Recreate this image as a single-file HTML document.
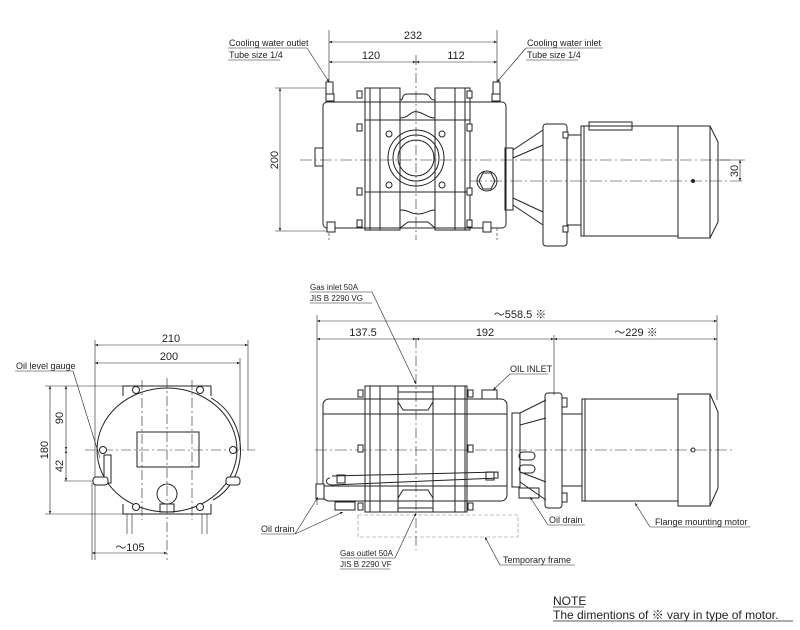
<!DOCTYPE html>
<html><head><meta charset="utf-8"><style>
html,body{margin:0;padding:0;background:#fff;width:800px;height:630px;overflow:hidden}
svg{display:block}
text{font-family:"Liberation Sans","Noto Sans CJK JP",sans-serif;fill:#222}
</style></head><body>
<svg width="800" height="630" viewBox="0 0 800 630" xmlns="http://www.w3.org/2000/svg">
<defs>
<marker id="a" viewBox="0 0 10 10" refX="10" refY="5" markerWidth="7" markerHeight="5" orient="auto-start-reverse"><path d="M0,1 L10,5 L0,9 z" fill="#222"/></marker>
</defs>
<g stroke="#222" fill="none" stroke-width="1">
<!-- ===== TOP VIEW ===== -->
<g stroke-width="0.6">
<line x1="329" y1="30" x2="329" y2="100"/><line x1="497" y1="30" x2="497" y2="100"/>
<line x1="416" y1="55" x2="416" y2="240" stroke-dasharray="10,3,2,3"/>
<line x1="329" y1="42" x2="497" y2="42" marker-start="url(#a)" marker-end="url(#a)"/>
<line x1="329" y1="62" x2="416" y2="62" marker-start="url(#a)" marker-end="url(#a)"/>
<line x1="416" y1="62" x2="497" y2="62" marker-start="url(#a)" marker-end="url(#a)"/>
<line x1="275" y1="88" x2="330" y2="88"/><line x1="275" y1="231" x2="330" y2="231"/>
<line x1="280" y1="88" x2="280" y2="231" marker-start="url(#a)" marker-end="url(#a)"/>
<line x1="300" y1="160" x2="730" y2="160" stroke-dasharray="12,3,2,3"/>
<line x1="470" y1="181" x2="745" y2="181" stroke-dasharray="12,3,2,3"/>
<line x1="740" y1="160" x2="740" y2="181" marker-start="url(#a)" marker-end="url(#a)"/>
<line x1="717" y1="160" x2="745" y2="160"/>
<line x1="329" y1="228" x2="329" y2="240" stroke-dasharray="3,2"/><line x1="497" y1="228" x2="497" y2="240" stroke-dasharray="3,2"/>
</g>
<rect x="323" y="102" width="183" height="126" rx="4"/>
<rect x="315" y="148" width="8" height="18"/>
<rect x="365" y="88" width="35" height="142"/><rect x="370" y="88" width="10" height="142"/>
<rect x="435" y="88" width="35" height="142"/><rect x="455" y="88" width="10" height="142"/>
<path d="M400,100 C405,100 400,94 408,94 L424,94 C432,94 428,100 435,100"/>
<path d="M400,118 C410,118 410,110 418,112 C426,114 428,118 435,118"/>
<path d="M400,210 C410,210 410,214 418,214 C426,214 428,210 435,210"/>
<path d="M400,228 L408,222 L428,222 L435,228"/>
<rect x="365" y="120" width="105" height="72"/>
<circle cx="416" cy="158" r="28"/><circle cx="416" cy="158" r="23"/><circle cx="416" cy="158" r="18"/>
<g fill="#fff"><circle cx="389" cy="134" r="3"/><circle cx="442" cy="134" r="3"/><circle cx="389" cy="185" r="3"/><circle cx="442" cy="185" r="3"/>
<rect x="357" y="91" width="5" height="7"/><rect x="467" y="91" width="5" height="7"/>
<rect x="357" y="124" width="5" height="7"/><rect x="467" y="124" width="5" height="7"/>
<rect x="357" y="188" width="5" height="7"/><rect x="467" y="188" width="5" height="7"/>
<rect x="357" y="220" width="5" height="7"/><rect x="467" y="220" width="5" height="7"/>
<rect x="326" y="82" width="7" height="12"/><rect x="493" y="82" width="7" height="12"/>
<rect x="326" y="94" width="8" height="7"/><rect x="492" y="94" width="8" height="7"/>
<rect x="327" y="222" width="8" height="10"/><rect x="483" y="222" width="8" height="10"/>
</g>
<path d="M479,181 l4,-8 h8 l4,8 l-4,8 h-8 z"/><circle cx="487" cy="181" r="10"/>
<rect x="505" y="148" width="8" height="62"/>
<path d="M513,150 L543,130 M513,158 L543,145 M513,205 L543,225 M513,198 L543,212"/>
<rect x="543" y="124" width="24" height="122" rx="3"/>
<rect x="567" y="135" width="14" height="90"/>
<rect x="581" y="126" width="97" height="110"/><line x1="584" y1="126" x2="584" y2="236"/>
<rect x="589" y="122" width="43" height="8"/>
<rect x="678" y="126" width="32" height="112"/>
<path d="M710,126 L718,142 L718,222 L710,238"/>
<circle cx="693" cy="181" r="1.5" fill="#222"/>
<g fill="#fff"><rect x="563" y="132" width="5" height="6"/><rect x="563" y="226" width="5" height="6"/></g>
<g stroke-width="0.6">
<line x1="228" y1="48" x2="307" y2="48"/><line x1="228" y1="60" x2="280" y2="60"/>
<line x1="307" y1="48" x2="329" y2="82" marker-end="url(#a)"/>
<line x1="526" y1="48" x2="603" y2="48"/><line x1="526" y1="60" x2="578" y2="60"/>
<line x1="526" y1="48" x2="497" y2="82" marker-end="url(#a)"/>
</g>

<!-- ===== SIDE VIEW ===== -->
<g stroke-width="0.6">
<line x1="317" y1="315" x2="317" y2="505"/><line x1="717" y1="315" x2="717" y2="400"/>
<line x1="554" y1="335" x2="554" y2="395"/>
<line x1="416" y1="338" x2="416" y2="550" stroke-dasharray="10,3,2,3"/>
<line x1="317" y1="321" x2="717" y2="321" marker-start="url(#a)" marker-end="url(#a)"/>
<line x1="317" y1="339" x2="416" y2="339" marker-start="url(#a)" marker-end="url(#a)"/>
<line x1="416" y1="339" x2="554" y2="339" marker-start="url(#a)" marker-end="url(#a)"/>
<line x1="554" y1="339" x2="717" y2="339" marker-start="url(#a)" marker-end="url(#a)"/>
<line x1="315" y1="450" x2="735" y2="450" stroke-dasharray="12,3,2,3"/>
<rect x="358" y="515" width="160" height="22" stroke-dasharray="4,2" stroke="#888"/>
</g>
<rect x="323" y="399" width="184" height="102" rx="6"/>
<line x1="323" y1="414" x2="507" y2="414"/><line x1="323" y1="486" x2="507" y2="486"/>
<rect x="365" y="386" width="102" height="126"/>
<rect x="370" y="386" width="10" height="126"/><rect x="455" y="386" width="10" height="126"/>
<line x1="398" y1="386" x2="398" y2="512"/><line x1="433" y1="386" x2="433" y2="512"/>
<path d="M398,392 h35 M398,402 L403,410 L428,410 L433,402 M398,498 L403,490 L428,490 L433,498 M398,508 h35"/>
<g fill="#fff">
<rect x="358" y="390" width="5" height="7"/><rect x="468" y="390" width="5" height="7"/>
<rect x="358" y="445" width="5" height="7"/><rect x="468" y="445" width="5" height="7"/>
<rect x="358" y="503" width="5" height="7"/><rect x="468" y="503" width="5" height="7"/>
<rect x="482" y="390" width="15" height="9"/>
<rect x="335" y="502" width="20" height="8"/>
<rect x="316" y="484" width="8" height="15"/>
<rect x="519" y="488" width="20" height="10"/>
</g>
<path d="M330,478 C325,478 325,485 332,485 L498,478 L498,472 L332,476" />
<rect x="337" y="475" width="8" height="8"/><rect x="486" y="472" width="8" height="8"/>
<rect x="512" y="413" width="8" height="74"/>
<path d="M520,413 L546,400 M520,425 L546,418 M520,482 L546,500 M520,472 L546,482"/>
<rect x="519" y="452" width="16" height="8" rx="4"/><rect x="519" y="465" width="16" height="8" rx="4"/>
<rect x="545" y="393" width="17" height="115" rx="3"/>
<rect x="562" y="414" width="20" height="72"/>
<rect x="582" y="399" width="96" height="102"/><line x1="585" y1="399" x2="585" y2="501"/>
<rect x="678" y="394" width="32" height="112"/>
<path d="M710,394 L718,412 L718,488 L710,506"/>
<circle cx="693" cy="450" r="2"/>
<g fill="#fff"><rect x="562" y="398" width="5" height="9"/><rect x="562" y="493" width="5" height="9"/></g>
<g stroke-width="0.6">
<line x1="310" y1="292" x2="372" y2="292"/><line x1="310" y1="303" x2="372" y2="303"/>
<line x1="372" y1="292" x2="416" y2="384" marker-end="url(#a)"/>
<line x1="510" y1="374" x2="548" y2="374"/><line x1="510" y1="374" x2="493" y2="390" marker-end="url(#a)"/>
<line x1="261" y1="534" x2="295" y2="534"/>
<line x1="295" y1="534" x2="318" y2="497" marker-end="url(#a)"/>
<line x1="295" y1="534" x2="343" y2="512" marker-end="url(#a)"/>
<line x1="548" y1="525" x2="585" y2="525"/><line x1="548" y1="525" x2="530" y2="497" marker-end="url(#a)"/>
<line x1="650" y1="527" x2="750" y2="527"/><line x1="650" y1="527" x2="635" y2="503" marker-end="url(#a)"/>
<line x1="500" y1="565" x2="575" y2="565"/><line x1="500" y1="565" x2="485" y2="537" marker-end="url(#a)"/>
<line x1="340" y1="558" x2="395" y2="558"/><line x1="340" y1="569" x2="390" y2="569"/>
<line x1="395" y1="558" x2="416" y2="513" marker-end="url(#a)"/>
</g>

<!-- ===== END VIEW ===== -->
<g stroke-width="0.6">
<line x1="95" y1="340" x2="95" y2="560"/>
<line x1="248" y1="340" x2="248" y2="450"/><line x1="240" y1="358" x2="240" y2="450"/>
<line x1="95" y1="345" x2="248" y2="345" marker-start="url(#a)" marker-end="url(#a)"/>
<line x1="95" y1="363" x2="240" y2="363" marker-start="url(#a)" marker-end="url(#a)"/>
<line x1="45" y1="386" x2="125" y2="386"/><line x1="45" y1="514" x2="125" y2="514"/>
<line x1="50" y1="386" x2="50" y2="514" marker-start="url(#a)" marker-end="url(#a)"/>
<line x1="66" y1="386" x2="66" y2="450" marker-start="url(#a)" marker-end="url(#a)"/>
<line x1="66" y1="450" x2="66" y2="481" marker-start="url(#a)" marker-end="url(#a)"/>
<line x1="64" y1="481" x2="95" y2="481"/>
<line x1="92" y1="483" x2="92" y2="560"/>
<line x1="167" y1="378" x2="167" y2="560" stroke-dasharray="10,3,2,3"/>
<line x1="92" y1="553" x2="167" y2="553" marker-start="url(#a)" marker-end="url(#a)"/>
<line x1="85" y1="450" x2="255" y2="450" stroke-dasharray="10,3,2,3"/>
<line x1="142" y1="380" x2="142" y2="520" stroke-dasharray="10,3,2,3"/>
<line x1="192" y1="380" x2="192" y2="520" stroke-dasharray="10,3,2,3"/>
<line x1="15" y1="371" x2="73" y2="371"/><line x1="73" y1="371" x2="100" y2="458"/>
</g>
<ellipse cx="167" cy="450" rx="70" ry="62"/>
<path d="M211,398 C250,420 250,480 213,500"/>
<path d="M123,396 v-10 h88 v10 M123,504 v10 h88 v-10"/>
<rect x="137" y="432" width="62" height="35"/>
<circle cx="167" cy="494" r="10"/><rect x="160" y="504" width="14" height="8"/>
<g fill="#fff">
<circle cx="136" cy="390" r="3.5"/><circle cx="200" cy="390" r="3.5"/>
<circle cx="136" cy="507" r="3.5"/><circle cx="200" cy="507" r="3.5"/>
<circle cx="103" cy="450" r="3.5"/><circle cx="233" cy="450" r="3.5"/>
<rect x="104" y="455" width="7" height="28"/><rect x="93" y="477" width="15" height="8" rx="3"/>
<rect x="226" y="477" width="14" height="8" rx="3"/>
</g>
<path d="M127,514 v20 M132,514 v20 M202,514 v20 M207,514 v20" stroke-width="0.6"/>
</g>

<!-- ===== TEXT ===== -->
<g font-size="9">
<text x="229" y="46">Cooling water outlet</text>
<text x="229" y="58">Tube size 1/4</text>
<text x="527" y="46">Cooling water inlet</text>
<text x="527" y="58">Tube size 1/4</text>
<text x="310" y="290" font-size="8">Gas inlet 50A</text>
<text x="310" y="301" font-size="8">JIS B 2290 VG</text>
<text x="510" y="372">OIL INLET</text>
<text x="261" y="532">Oil drain</text>
<text x="549" y="523">Oil drain</text>
<text x="655" y="525">Flange mounting motor</text>
<text x="340" y="556" font-size="8">Gas outlet 50A</text>
<text x="340" y="567" font-size="8">JIS B 2290 VF</text>
<text x="503" y="563">Temporary frame</text>
<text x="16" y="369">Oil level gauge</text>
</g>
<g font-size="11" text-anchor="middle">
<text x="413" y="39">232</text>
<text x="371" y="59">120</text>
<text x="456" y="59">112</text>
<text x="278" y="160" transform="rotate(-90 278 160)">200</text>
<text x="738" y="171" transform="rotate(-90 738 171)">30</text>
<text x="520" y="318">～558.5 ※</text>
<text x="363" y="336">137.5</text>
<text x="485" y="336">192</text>
<text x="636" y="336">～229 ※</text>
<text x="171" y="342">210</text>
<text x="169" y="360">200</text>
<text x="48" y="450" transform="rotate(-90 48 450)">180</text>
<text x="63" y="418" transform="rotate(-90 63 418)">90</text>
<text x="63" y="466" transform="rotate(-90 63 466)">42</text>
<text x="130" y="551">～105</text>
</g>
<text x="553" y="605" font-size="12">NOTE</text>
<text x="553" y="619" font-size="12">The dimentions of ※ vary in type of motor.</text>
<line x1="553" y1="607" x2="584" y2="607" stroke="#222" stroke-width="0.8"/>
<line x1="553" y1="621" x2="793" y2="621" stroke="#222" stroke-width="0.8"/>
</svg>
</body></html>
